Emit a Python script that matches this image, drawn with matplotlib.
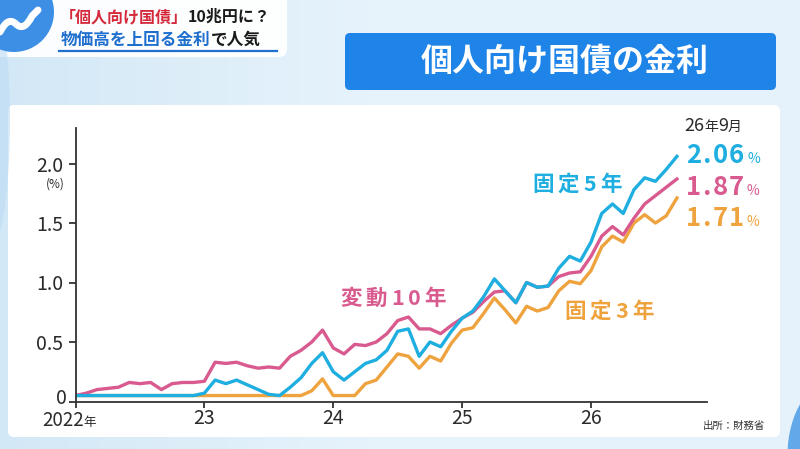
import matplotlib
import numpy as np

matplotlib.use("Agg")
import matplotlib.pyplot as plt
from matplotlib.colors import LinearSegmentedColormap
from matplotlib.patches import Circle, Ellipse, FancyBboxPatch, PathPatch
from matplotlib.path import Path as MPath

plt.rcParams["font.family"] = ["Noto Sans CJK JP", "DejaVu Sans"]

W, H = 800, 449

# monthly issues, 2022-01 .. 2026-09
months = np.arange(57)
year_ticks = [0, 12, 24, 36, 48]
year_labels = ["2022", "23", "24", "25", "26"]
y_ticks = [0, 0.5, 1.0, 1.5, 2.0]
y_labels = ["0", "0.5", "1.0", "1.5", "2.0"]

hendo10 = [
    0.05, 0.07, 0.10, 0.11, 0.12, 0.16, 0.15, 0.16, 0.10, 0.15, 0.16, 0.16,
    0.17, 0.33, 0.32, 0.33, 0.30, 0.28, 0.29, 0.28, 0.38, 0.43, 0.50, 0.60,
    0.45, 0.40, 0.48, 0.47, 0.50, 0.57, 0.68, 0.71, 0.61, 0.61, 0.57, 0.64,
    0.70, 0.75, 0.84, 0.92, 0.93, 0.83, 1.00, 0.96, 0.97, 1.05, 1.08, 1.09,
    1.22, 1.39, 1.47, 1.40, 1.54, 1.66, 1.73, 1.80, 1.87,
]
kotei5 = [
    0.05, 0.05, 0.05, 0.05, 0.05, 0.05, 0.05, 0.05, 0.05, 0.05, 0.05, 0.05,
    0.07, 0.18, 0.15, 0.18, 0.14, 0.10, 0.06, 0.05, 0.12, 0.20, 0.32, 0.41,
    0.25, 0.18, 0.25, 0.32, 0.35, 0.43, 0.59, 0.61, 0.38, 0.50, 0.46, 0.59,
    0.70, 0.76, 0.88, 1.03, 0.93, 0.83, 1.00, 0.96, 0.97, 1.12, 1.22, 1.18,
    1.34, 1.58, 1.66, 1.58, 1.78, 1.88, 1.85, 1.95, 2.06,
]
kotei3 = [
    0.05, 0.05, 0.05, 0.05, 0.05, 0.05, 0.05, 0.05, 0.05, 0.05, 0.05, 0.05,
    0.05, 0.05, 0.05, 0.05, 0.05, 0.05, 0.05, 0.05, 0.05, 0.05, 0.09, 0.19,
    0.05, 0.05, 0.05, 0.15, 0.18, 0.29, 0.40, 0.38, 0.28, 0.38, 0.34, 0.49,
    0.60, 0.62, 0.74, 0.87, 0.77, 0.66, 0.80, 0.76, 0.79, 0.93, 1.01, 0.99,
    1.10, 1.30, 1.39, 1.34, 1.50, 1.57, 1.50, 1.56, 1.71,
]

BLUE = "#1eaee0"
PINK = "#d95a8f"
ORANGE = "#eea33f"
DARK = "#2a2a2a"

fig = plt.figure(figsize=(W / 100, H / 100), dpi=100)
renderer = fig.canvas.get_renderer()

# background layer in pixel coordinates
bg = fig.add_axes([0, 0, 1, 1])
bg.set_xlim(0, W)
bg.set_ylim(H, 0)
bg.axis("off")
cmap = LinearSegmentedColormap.from_list("bg", ["#d3e8f6", "#e8f4fc", "#e6f2fb"])
bg.imshow(np.linspace(0, 1, 256)[None, :], cmap=cmap, aspect="auto",
          extent=[0, W, H, 0], zorder=0)

# chart panel
bg.add_patch(FancyBboxPatch((8, 105), 772, 332, boxstyle="round,pad=0,rounding_size=6",
                            fc="white", ec="none", zorder=1))

# title box top-left with logo
bg.add_patch(FancyBboxPatch((-20, -20), 307, 77, boxstyle="round,pad=0,rounding_size=8",
                            fc="white", ec="none", alpha=0.95, zorder=1))
bg.add_patch(Ellipse((-10, 120), 40, 260, fc="#bcdcf5", ec="none", alpha=0.6, zorder=1))
bg.add_patch(Circle((14, 12), 40, fc="#3d8fe6", ec="none", zorder=2))
wave = MPath([(0, 32), (8, 16), (16, 24), (24, 32), (32, 16), (38, 10)],
             [MPath.MOVETO, MPath.CURVE3, MPath.CURVE3, MPath.CURVE3, MPath.CURVE3, MPath.LINETO])
bg.add_patch(PathPatch(wave, fc="none", ec="white", lw=5, capstyle="round", zorder=3))
bg.plot([59, 277], [50.5, 50.5], color="#1f6fcf", lw=1.6, zorder=3)

# bottom-right swoosh
bg.add_patch(Ellipse((835, 455), 95, 150, fc="#4b9ce8", ec="none", alpha=0.85, zorder=1))

# banner
bg.add_patch(FancyBboxPatch((345, 33), 431, 57, boxstyle="round,pad=0,rounding_size=5",
                            fc="#1f84e8", ec="none", zorder=2))
bg.text(565, 62, "個人向け国債の金利", color="white", fontsize=23, fontweight="bold",
        ha="center", va="center", zorder=3)


def run(axis, x, y, parts, track=0.0, zorder=4):
    """Draw text pieces one after another on a baseline, with optional extra letter spacing."""
    for s, color, size, weight in parts:
        for ch in (s if track else [s]):
            t = axis.text(x, y, ch, color=color, fontsize=size, fontweight=weight,
                          ha="left", va="baseline", zorder=zorder)
            x += t.get_window_extent(renderer).width + track
    return x


def run_width(parts, track=0.0):
    probe = fig.text(0, 0, "")
    width = 0.0
    for s, _, size, weight in parts:
        for ch in (s if track else [s]):
            probe.set_text(ch)
            probe.set_fontsize(size)
            probe.set_fontweight(weight)
            width += probe.get_window_extent(renderer).width + track
    probe.remove()
    return width - track


run(bg, 60, 22, [("「個人向け国債」", "#d42a3c", 11.5, "bold"), ("10兆円に？", "#1a1a1a", 11.5, "bold")])
run(bg, 61, 45, [("物価高を上回る金利", "#1f6fcf", 12, "bold"), ("で人気", "#1a1a1a", 12, "bold")])

# chart axes
ax = fig.add_axes([75.5 / W, (H - 401.5) / H, 631.5 / W, 273.7 / H], zorder=2)
ax.patch.set_alpha(0)
ax.plot(months, kotei3, color=ORANGE, lw=2.4, solid_joinstyle="round")
ax.plot(months, hendo10, color=PINK, lw=2.4, solid_joinstyle="round")
ax.plot(months, kotei5, color=BLUE, lw=2.4, solid_joinstyle="round")
ax.set_xlim(0, 58.8)
ax.set_ylim(0, 2.3)
for side in ("top", "right"):
    ax.spines[side].set_visible(False)
for side in ("left", "bottom"):
    ax.spines[side].set_color("#333333")
    ax.spines[side].set_linewidth(1.3)
ax.set_yticks(y_ticks)
# the "0" label sits a little higher in the original, drawn separately below
ax.set_yticklabels([""] + y_labels[1:], fontsize=14, color=DARK)
ax.set_xticks(year_ticks)
ax.set_xticklabels([""] + year_labels[1:], fontsize=14, color=DARK)
ax.tick_params(axis="y", length=5, width=1.3, pad=4, color="#333333")
ax.tick_params(axis="x", length=4, width=1.3, pad=0.5, color="#333333")

# overlay texts
ov = fig.add_axes([0, 0, 1, 1], zorder=3)
ov.set_xlim(0, W)
ov.set_ylim(H, 0)
ov.axis("off")

ov.text(67, 404, y_labels[0], fontsize=14, color=DARK, ha="right", va="baseline")
run(ov, 42, 426, [(year_labels[0], DARK, 13.5, "normal"), ("年", DARK, 9, "normal")])
ov.text(55, 184, "(%)", fontsize=8.5, color=DARK, ha="center", va="center")

for label, color, cx, base in [("固定5年", BLUE, 577, 191), ("変動10年", PINK, 393, 305),
                               ("固定3年", ORANGE, 609, 318)]:
    parts = [(label, color, 15.5, "bold")]
    run(ov, cx - run_width(parts, 4) / 2, base, parts, track=4)

run(ov, 684, 131, [("26", DARK, 13, "normal"), ("年", DARK, 10, "normal"),
                   ("9", DARK, 13, "normal"), ("月", DARK, 10, "normal")])
for val, color, ybase in [(kotei5[-1], BLUE, 163), (hendo10[-1], PINK, 195), (kotei3[-1], ORANGE, 226)]:
    x_end = run(ov, 686, ybase, [(f"{val:.2f}", color, 18.5, "bold")], track=1.5)
    run(ov, x_end + 1, ybase, [("%", color, 10, "normal")])

ov.text(765, 429, "出所：財務省", fontsize=7.5, color="#333333", ha="right", va="baseline")

fig.savefig("out.png", dpi=100)
